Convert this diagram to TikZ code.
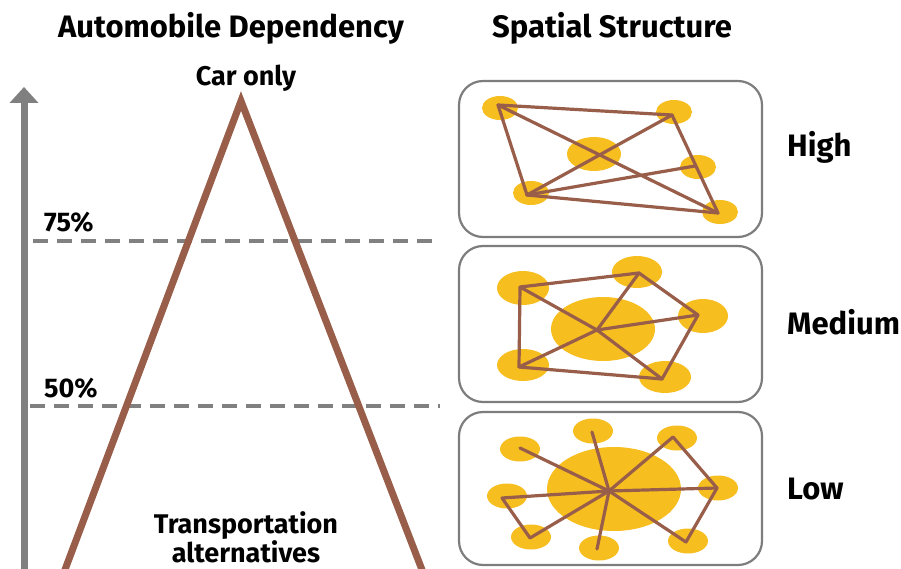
\documentclass[tikz,border=0pt]{standalone}
\usepackage{fontspec}
\setmainfont{Fira Sans}
\usetikzlibrary{arrows.meta}
\definecolor{tribrown}{RGB}{152,94,74}
\definecolor{spotyellow}{RGB}{247,190,32}
\definecolor{axisgray}{RGB}{128,128,128}
\definecolor{boxgray}{RGB}{125,125,125}
\tikzset{
  lbl/.style={font=\bfseries\fontsize{27}{29}\selectfont, inner sep=0pt},
  heading/.style={font=\bfseries\fontsize{31}{34}\selectfont, inner sep=0pt},
  level/.style={lbl, anchor=west, font=\bfseries\fontsize{31}{34}\selectfont},
  panel/.style={draw=boxgray, line width=2.2pt, rounded corners=24pt, fill=white},
  spot/.style={fill=spotyellow},
  link/.style={draw=tribrown, line width=3.2pt, line cap=round, line join=round},
  share/.style={draw=axisgray, line width=3.2pt, dash pattern=on 15pt off 9pt}
}
\begin{document}
\begin{tikzpicture}[x=1pt, y=-1pt, line join=round, line cap=round]
	\useasboundingbox (0,0) rectangle (901,569);
	% headings
	\node[heading] (titleA) at (231,28) {Automobile Dependency};
	\node[heading] (titleS) at (612,28) {Spatial Structure};
	% axis and share levels
	\coordinate (axbot) at (24,575);
	\coordinate (axtop) at (24,87);
	\draw[axisgray, line width=7pt, line cap=butt, -{Triangle[width=28pt,length=16pt]}] (axbot) -- (axtop);
	\coordinate (d75a) at (33,241);
	\coordinate (d75b) at (440,241);
	\coordinate (d50a) at (30,406);
	\coordinate (d50b) at (440,406);
	\draw[share, line cap=butt] (d75a) -- (d75b);
	\draw[share, line cap=butt] (d50a) -- (d50b);
	\node[lbl, anchor=west] (p75) at (44,222) {75\%};
	\node[lbl, anchor=west] (p50) at (44,388) {50\%};
	% dependency triangle
	\coordinate (apex) at (241,101);
	\coordinate (lfoot) at (63,575);
	\coordinate (rfoot) at (424,575);
	\draw[tribrown, line width=7pt, line join=miter, line cap=butt] (lfoot) -- (apex) -- (rfoot);
	\node[lbl] (caronly) at (246,78) {Car only};
	\node[lbl, align=center] (alt) at (246,537) {Transportation\\alternatives};
	% panels
	\draw[panel] (459,81) rectangle (762,237);
	\draw[panel] (459,246) rectangle (762,402);
	\draw[panel] (459,412) rectangle (762,565);
	\node[level] (high) at (787,147) {High};
	\node[level] (medium) at (787,322) {Medium};
	\node[level] (low) at (787,489) {Low};
	% high
	\fill[spot] (500,108) ellipse (18 and 12);
	\fill[spot] (674,112) ellipse (18 and 12);
	\fill[spot] (594,154) ellipse (27 and 17);
	\fill[spot] (698,167) ellipse (18 and 12);
	\fill[spot] (531,193) ellipse (18 and 12);
	\fill[spot] (720,212) ellipse (18 and 12);
	\coordinate (ha) at (498,105);
	\coordinate (hb) at (672,115);
	\coordinate (hc) at (527,195);
	\coordinate (hd) at (718,213);
	\coordinate (he) at (695,166);
	\draw[link] (ha) -- (hb) -- (hd) -- (hc) -- cycle;
	\draw[link] (ha) -- (hd);
	\draw[link] (hb) -- (hc);
	\draw[link] (hc) -- (he);
	% medium
	\fill[spot] (603,329) ellipse (52 and 32);
	\fill[spot] (523,288) ellipse (26 and 17);
	\fill[spot] (637,272) ellipse (25 and 16);
	\fill[spot] (703,316) ellipse (25 and 17);
	\fill[spot] (523,365) ellipse (26 and 16);
	\fill[spot] (665,377) ellipse (26 and 16);
	\coordinate (mq) at (597,330);
	\coordinate (m1) at (520,287);
	\coordinate (m2) at (639,273);
	\coordinate (m3) at (698,315);
	\coordinate (m5) at (662,379);
	\coordinate (m4) at (519,367);
	\draw[link] (m1) -- (m2) -- (m3) -- (m5) -- (m4) -- cycle;
	\foreach \m in {m1,m2,m3,m4,m5}
		\draw[link] (mq) -- (\m);
	% low
	\fill[spot] (614,489) ellipse (67 and 42);
	\foreach \p in {(520,449),(593,431),(677,438),(718,488),(688,541),(599,548),(531,537),(507,496)}
		\fill[spot] \p ellipse (20 and 12.5);
	\coordinate (lq) at (609,491);
	\coordinate (l1) at (520,448);
	\coordinate (l2) at (592,432);
	\coordinate (l3) at (673,437);
	\coordinate (l4) at (717,488);
	\coordinate (l5) at (686,542);
	\coordinate (l6) at (597,549);
	\coordinate (l7) at (530,538);
	\coordinate (l8) at (502,498);
	\draw[link] (lq) -- (l3) -- (l4) -- (l5) -- (lq);
	\draw[link] (lq) -- (l8) -- (l7) -- (lq);
	\foreach \l in {l1,l2,l4,l6}
		\draw[link] (lq) -- (\l);
\end{tikzpicture}
\end{document}
